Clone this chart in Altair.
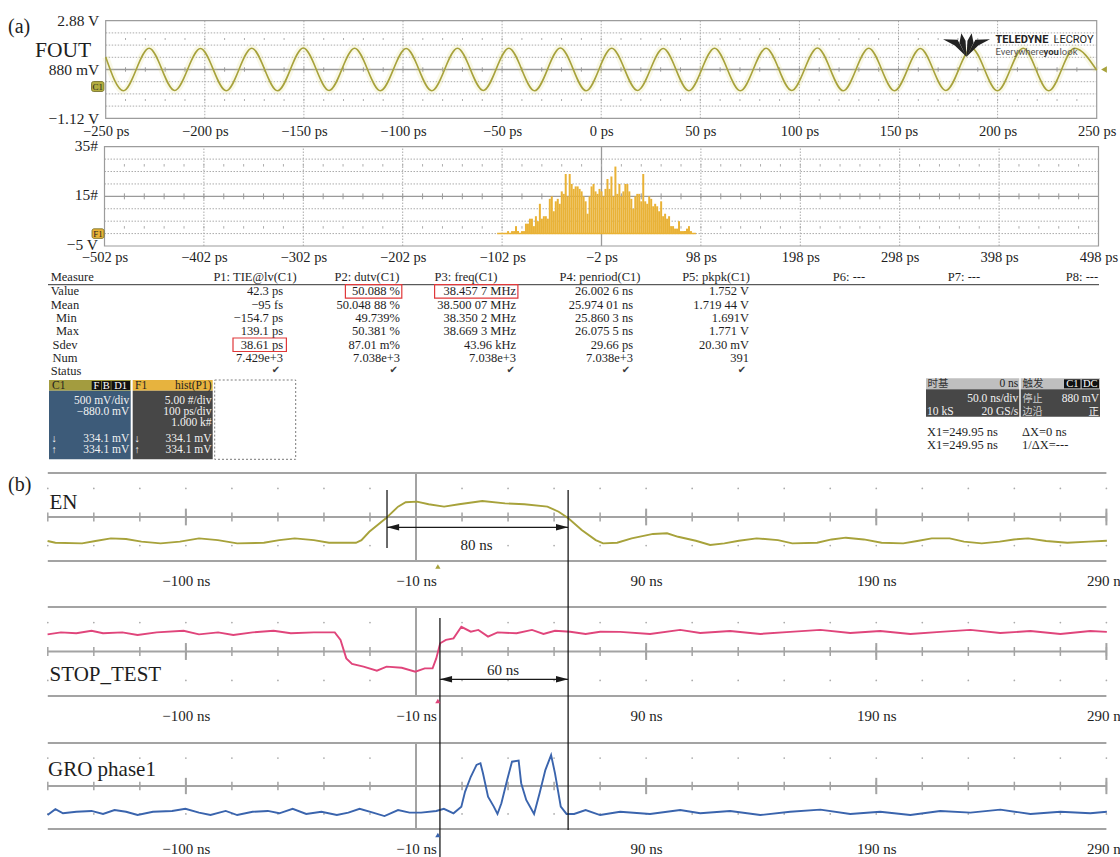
import altair as alt
import pandas as pd

W, H = 1120, 857
SERIF = "Liberation Serif"
SANS = "Roboto"
CJK = "Noto Sans CJK SC"
SYM = "DejaVu Sans"

OLIVE = "#a7a23b"
PINK = "#e0457b"
BLUE = "#3a64ad"
GOLD = "#e9b236"
GRID = "#ababab"
FRAME = "#9c9c9c"
INK = "#1e1e1e"

# ------------------------------------------------------------------ data
# (a) FOUT: turning points of the displayed sine trace (time in ps, level in V)
fout_ps = [-250.0, -241.1, -228.1, -215.2, -202.2, -189.2, -176.3, -163.3, -150.3,
           -137.3, -124.4, -111.4, -98.4, -85.5, -72.5, -59.5, -46.6, -33.6, -20.6,
           -7.6, 5.3, 18.3, 31.3, 44.2, 57.2, 70.2, 83.2, 96.1, 109.1, 122.1, 135.0,
           148.0, 161.0, 173.9, 186.9, 199.9, 212.9, 225.8, 238.8, 250.0]
fout_v = [1.39, 0.01, 1.75, 0.02, 1.74, 0.01, 1.75, 0.01, 1.76, 0.02, 1.75, 0.01,
          1.74, 0.01, 1.75, 0.02, 1.75, 0.01, 1.76, 0.01, 1.75, 0.02, 1.74, 0.01,
          1.75, 0.01, 1.75, 0.02, 1.76, 0.01, 1.75, 0.01, 1.74, 0.02, 1.75, 0.01,
          1.75, 0.01, 1.75, 0.85]

# (a) F1 = hist(P1): 2 ps bins (left edges) and counts
hist_left_ps = list(range(-107, 93, 2))
hist_counts = [0, 0, 0, 0, 0, 1, 0, 1, 1, 3,
               1, 0, 1, 1, 4, 4, 6, 6, 3, 7,
               5, 12, 6, 7, 7, 6, 14, 15, 9, 13,
               14, 12, 17, 16, 24, 15, 24, 20, 18, 19,
               19, 18, 17, 15, 13, 8, 15, 19, 20, 17,
               16, 18, 17, 15, 18, 22, 18, 23, 15, 27,
               16, 20, 15, 17, 20, 20, 17, 14, 10, 15,
               16, 16, 13, 24, 13, 12, 15, 14, 11, 12,
               11, 9, 13, 7, 8, 6, 7, 3, 3, 2,
               2, 5, 1, 1, 1, 2, 3, 1, 0, 0]

# (b) EN (time in ns, level in divisions)
en_ns = [-170.1, -166.7, -155.1, -149.3, -142.6, -136.0, -129.3, -121.0, -112.6, -104.3,
         -96.1, -87.7, -76.1, -69.4, -62.7, -54.4, -47.8, -36.1, -33.7, -30.3,
         -23.1, -17.8, -14.5, -9.6, -4.5, 2.2, 8.7, 18.8, 28.7, 37.1,
         47.1, 52.0, 56.2, 62.0, 68.1, 71.3, 77.4, 83.7, 93.0, 99.1,
         103.9, 111.6, 117.8, 124.0, 130.3, 138.0, 147.3, 153.5, 164.3, 170.6,
         176.8, 184.6, 192.3, 201.7, 207.8, 214.1, 221.9, 228.1, 235.8, 243.6,
         249.8, 256.0, 263.8, 273.0, 282.4, 290.2]
en_div = [-1.09, -1.17, -1.2, -1.09, -0.97, -1.0, -1.12, -1.2, -1.12, -0.97,
          -1.05, -1.2, -1.17, -1.05, -0.97, -1.05, -1.17, -1.17, -1.05, -0.67,
          -0.06, 0.47, 0.67, 0.7, 0.58, 0.47, 0.58, 0.73, 0.62, 0.58,
          0.47, 0.24, -0.06, -0.59, -1.05, -1.2, -1.17, -0.97, -0.77, -0.74,
          -0.9, -1.08, -1.27, -1.2, -1.08, -0.97, -1.05, -1.2, -1.17, -1.02,
          -0.94, -1.02, -1.17, -1.2, -1.09, -0.97, -0.97, -1.12, -1.2, -1.12,
          -1.02, -0.97, -1.09, -1.17, -1.12, -1.08]

# (b) STOP_TEST
stop_ns = [-170.1, -164.3, -157.6, -151.0, -146.0, -137.6, -131.0, -122.7, -111.0, -104.3,
           -96.0, -89.4, -81.0, -71.9, -64.4, -54.4, -45.3, -42.8, -40.3, -37.8,
           -32.8, -27.0, -22.8, -16.2, -10.3, -6.2, -2.8, -1.2, 0.5, 3.0,
           6.3, 9.7, 13.8, 17.1, 21.3, 25.4, 33.7, 40.4, 45.4, 50.4,
           57.0, 63.7, 70.0, 78.7, 91.7, 104.8, 113.5, 126.5, 139.6, 152.6,
           165.7, 178.7, 191.7, 204.8, 217.8, 230.9, 243.9, 257.0, 270.0, 283.0,
           290.2]
stop_div = [0.77, 0.86, 0.82, 0.93, 0.82, 0.86, 0.74, 0.86, 0.93, 0.77,
            0.86, 0.74, 0.86, 0.93, 0.82, 0.86, 0.86, 0.52, -0.31, -0.56,
            -0.68, -0.86, -0.68, -0.73, -0.91, -0.76, -0.76, -0.31, 0.37, 0.52,
            0.59, 1.11, 0.89, 0.97, 0.67, 0.86, 0.82, 0.97, 0.79, 0.93,
            0.89, 0.79, 0.89, 0.88, 0.79, 0.97, 0.83, 0.92, 0.79, 0.88,
            0.97, 0.83, 0.92, 0.79, 0.88, 0.97, 0.83, 0.92, 0.79, 0.92,
            0.88]

# (b) GRO phase1
gro_ns = [-170.1, -166.7, -163.4, -157.6, -151.0, -146.0, -141.0, -136.0, -131.0, -124.3,
          -116.0, -110.2, -104.3, -99.3, -92.7, -87.7, -81.0, -74.4, -69.4, -63.6,
          -57.7, -51.1, -44.4, -39.4, -34.5, -28.7, -23.7, -17.8, -12.8, -7.8,
          -1.2, 2.1, 6.3, 9.7, 11.3, 13.8, 16.3, 18.0, 19.1, 21.3,
          23.8, 25.4, 27.1, 29.6, 31.7, 34.6, 35.7, 37.9, 41.3, 43.7,
          46.2, 48.7, 50.4, 52.9, 55.4, 58.7, 63.7, 70.0, 78.7, 91.7,
          104.8, 113.5, 126.5, 139.6, 152.6, 165.7, 178.7, 191.7, 204.8, 217.8,
          230.9, 243.9, 257.0, 270.0, 283.0, 290.2]
gro_div = [-1.35, -1.08, -1.27, -1.2, -1.16, -1.3, -1.12, -1.2, -1.35, -1.2,
           -1.16, -1.06, -1.24, -1.35, -1.16, -1.35, -1.2, -1.16, -1.27, -1.06,
           -1.3, -1.2, -1.35, -1.24, -1.06, -1.24, -1.4, -1.12, -1.24, -1.24,
           -1.16, -1.06, -1.27, -0.96, -0.27, 0.43, 0.98, 1.06, 0.59, -0.5,
           -0.96, -1.3, -0.8, 0.28, 1.13, 1.18, 0.13, -0.65, -1.3, -0.34,
           0.74, 1.44, 0.59, -0.96, -1.3, -1.3, -1.12, -1.35, -1.2, -1.3,
           -1.12, -1.27, -1.16, -1.35, -1.2, -1.1, -1.3, -1.2, -1.35, -1.16,
           -1.24, -1.1, -1.3, -1.2, -1.27, -1.2]

# cursors in (b): edges of the EN pulse and the STOP_TEST release (ns)
en_edges_ns = [-22.6, 56.1]
stop_edge_ns = 0.4

# measurement table
table_rows = ["Value", "Mean", "Min", "Max", "Sdev", "Num", "Status"]
table_headers = ["P1: TIE@lv(C1)", "P2: dutv(C1)", "P3: freq(C1)", "P4: penriod(C1)",
                 "P5: pkpk(C1)", "P6: ---", "P7: ---", "P8: ---"]
p1_tie = ["42.3 ps", "−95 fs", "−154.7 ps", "139.1 ps", "38.61 ps", "7.429e+3"]
p2_duty = ["50.088 %", "50.048 88 %", "49.739%", "50.381 %", "87.01 m%", "7.038e+3"]
p3_freq = ["38.457 7 MHz", "38.500 07 MHz", "38.350 2 MHz", "38.669 3 MHz", "43.96 kHz", "7.038e+3"]
p4_period = ["26.002 6 ns", "25.974 01 ns", "25.860 3 ns", "26.075 5 ns", "29.66 ps", "7.038e+3"]
p5_pkpk = ["1.752 V", "1.719 44 V", "1.691V", "1.771 V", "20.30 mV", "391"]
table_cols = [p1_tie, p2_duty, p3_freq, p4_period, p5_pkpk]

# channel / function descriptors
c1_lines = ["500 mV/div", "−880.0 mV", "334.1 mV", "334.1 mV"]
f1_lines = ["5.00 #/div", "100 ps/div", "1.000 k#", "334.1 mV", "334.1 mV"]

# ------------------------------------------------------------------ layout
table_row_y = [291.3, 304.7, 318.0, 331.3, 344.7, 358.0, 370.7]
table_label_x = [50.7, 50.7, 56.0, 56.0, 52.5, 52.5, 50.7]
value_right_x = [283, 400, 516, 633, 749]
header_center_x = [255, 367, 466, 600, 716, 849, 964, 1082]
check_x = [276, 393.6, 510.7, 626, 742]


def sc(domain, rng):
    return alt.Scale(domain=domain, range=rng, nice=False, zero=False)


PX = sc([0, W], [0, W])
PY = sc([0, H], [0, H])
XA = sc([-250, 250], [105.7, 1096.7])
YA = sc([-1.12, 2.88], [118.3, 20.7])
XH = sc([-502, 498], [104.5, 1098.5])
YH = sc([-5, 35], [246.0, 146.7])
XB = sc([-170, 290], [47.8, 1106.4])
Y_EN = sc([-2, 2], [561.0, 473.0])
Y_ST = sc([-2, 2], [696.0, 607.0])
Y_GR = sc([-2, 2], [829.0, 743.0])


def rule_v(xvals, xs, ys, lo, hi, color, width=1.0, dash=None):
    df = pd.DataFrame({"x": xvals, "lo": lo, "hi": hi})
    kw = dict(color=color, strokeWidth=width)
    if dash:
        kw["strokeDash"] = dash
    return alt.Chart(df).mark_rule(**kw).encode(
        x=alt.X("x:Q", scale=xs, axis=None),
        y=alt.Y("lo:Q", scale=ys, axis=None), y2="hi:Q")


def rule_h(yvals, xs, ys, lo, hi, color, width=1.0, dash=None):
    df = pd.DataFrame({"y": yvals, "lo": lo, "hi": hi})
    kw = dict(color=color, strokeWidth=width)
    if dash:
        kw["strokeDash"] = dash
    return alt.Chart(df).mark_rule(**kw).encode(
        y=alt.Y("y:Q", scale=ys, axis=None),
        x=alt.X("lo:Q", scale=xs, axis=None), x2="hi:Q")


def dots(xvals, yvals, xs, ys, color=GRID, size=3):
    df = pd.DataFrame([(x, y) for y in yvals for x in xvals], columns=["x", "y"])
    return alt.Chart(df).mark_point(filled=True, size=size, color=color, opacity=1).encode(
        x=alt.X("x:Q", scale=xs, axis=None), y=alt.Y("y:Q", scale=ys, axis=None))


def frame(xs, ys, x0, x1, y0, y1):
    df = pd.DataFrame({"x0": [x0], "x1": [x1], "y0": [y0], "y1": [y1]})
    return alt.Chart(df).mark_rect(fillOpacity=0, stroke=FRAME, strokeWidth=1.2).encode(
        x=alt.X("x0:Q", scale=xs, axis=None), x2="x1:Q",
        y=alt.Y("y0:Q", scale=ys, axis=None), y2="y1:Q")


def trace(xvals, yvals, xs, ys, color, width=1.6, interp="linear", opacity=1.0):
    df = pd.DataFrame({"t": xvals, "v": yvals})
    return alt.Chart(df).mark_line(color=color, strokeWidth=width, interpolate=interp,
                                   opacity=opacity).encode(
        x=alt.X("t:Q", scale=xs, axis=None), y=alt.Y("v:Q", scale=ys, axis=None))


def bottom_axis(values, expr, y_px, size=14.5, pad=5):
    return alt.Axis(orient="bottom", offset=y_px - H, values=values, labelExpr=expr,
                    domain=False, ticks=False, grid=False, title="",
                    labelFont=SERIF, labelFontSize=size, labelColor=INK,
                    labelPadding=pad, labelFlush=False, labelOverlap=False)


def left_axis(values, expr, x_px, size=15.5, pad=7, offset_y=0):
    return alt.Axis(orient="left", offset=-x_px, values=values, labelExpr=expr,
                    domain=False, ticks=False, grid=False, title="",
                    labelFont=SERIF, labelFontSize=size, labelColor=INK,
                    labelPadding=pad, labelOverlap=False, labelOffset=offset_y)


def carrier(xs, ys, xdom, ydom, xaxis=None, yaxis=None):
    df = pd.DataFrame({"x": xdom, "y": ydom})
    return alt.Chart(df).mark_point(opacity=0).encode(
        x=alt.X("x:Q", scale=xs, axis=xaxis), y=alt.Y("y:Q", scale=ys, axis=yaxis))


def ctext(rows, align="left", font=SERIF, weight="normal"):
    df = pd.DataFrame(rows, columns=["x", "y", "text", "size", "color"])
    return alt.Chart(df).mark_text(align=align, baseline="middle", font=font,
                                   fontWeight=weight).encode(
        x=alt.X("x:Q", scale=PX, axis=None), y=alt.Y("y:Q", scale=PY, axis=None),
        text="text:N", size=alt.Size("size:Q", scale=None),
        color=alt.Color("color:N", scale=None))


def crects(rows, **mark):
    df = pd.DataFrame(rows, columns=["x0", "y0", "x1", "y1", "fill"])
    return alt.Chart(df).mark_rect(**mark).encode(
        x=alt.X("x0:Q", scale=PX, axis=None), x2="x1:Q",
        y=alt.Y("y0:Q", scale=PY, axis=None), y2="y1:Q",
        color=alt.Color("fill:N", scale=None))


def cboxes(rows, **mark):
    df = pd.DataFrame(rows, columns=["x0", "y0", "x1", "y1"])
    return alt.Chart(df).mark_rect(fillOpacity=0, **mark).encode(
        x=alt.X("x0:Q", scale=PX, axis=None), x2="x1:Q",
        y=alt.Y("y0:Q", scale=PY, axis=None), y2="y1:Q")


layers = []

# ------------------------------------------------------------ (a) FOUT panel
a_minor = list(range(-240, 250, 10))
layers += [
    rule_h([-0.62, -0.12, 0.38, 1.38, 1.88, 2.38], XA, YA, -250, 250, GRID, 1, [1.5, 1.5]),
    rule_v([-200, -150, -100, -50, 0, 50, 100, 150, 200], XA, YA, -1.12, 2.88, GRID, 1, [1.5, 1.5]),
    rule_h([0.88], XA, YA, -250, 250, "#9a9a9a", 1.3),
    rule_v(a_minor, XA, YA, 0.79, 0.97, "#9a9a9a", 1),
    rule_v(a_minor, XA, YA, 2.09, 2.17, GRID, 1),
    rule_v(a_minor, XA, YA, -0.41, -0.33, GRID, 1),
    frame(XA, YA, -250, 250, -1.12, 2.88),
    trace(fout_ps, fout_v, XA, YA, "#dcd67a", width=7, interp="monotone", opacity=0.18),
    trace(fout_ps, fout_v, XA, YA, OLIVE, width=1.6, interp="monotone"),
    carrier(XA, YA, [-250, 250], [-1.12, 2.88],
            xaxis=bottom_axis(list(range(-250, 251, 50)),
                              "format(datum.value, 'd') + ' ps'", 118.3, 14.5, 6),
            yaxis=left_axis([-1.12, 0.88, 2.88],
                            "datum.value == 0.88 ? '880 mV' : format(datum.value, '.2f') + ' V'",
                            105.7, 15.5, 7)),
]

# ------------------------------------------------------------ (a) histogram panel
h_minor = list(range(-482, 498, 20))
hist_df = pd.DataFrame({"x0": hist_left_ps, "c": hist_counts})
hist_df["x1"] = hist_df["x0"] + 2
layers += [
    rule_h([0, 5, 10, 20, 25, 30], XH, YH, -502, 498, GRID, 1, [1.5, 1.5]),
    rule_v([-402, -302, -202, -102, 98, 198, 298, 398], XH, YH, -5, 35, GRID, 1, [1.5, 1.5]),
    rule_h([15], XH, YH, -502, 498, "#9a9a9a", 1.3),
    rule_v([-2], XH, YH, -5, 35, "#9a9a9a", 1.3),
    rule_v(h_minor, XH, YH, 13.8, 16.2, "#9a9a9a", 1),
    rule_v(h_minor, XH, YH, 27.0, 28.0, GRID, 1),
    rule_v(h_minor, XH, YH, 2.0, 3.0, GRID, 1),
    frame(XH, YH, -502, 498, -5, 35),
    rule_h([0], XH, YH, -107, 93, GOLD, 1.5),
    alt.Chart(hist_df).mark_rect(color=GOLD).encode(
        x=alt.X("x0:Q", scale=XH, axis=None), x2="x1:Q",
        y=alt.Y("c:Q", scale=YH, axis=None), y2=alt.datum(0)),
    carrier(XH, YH, [-502, 498], [-5, 35],
            xaxis=bottom_axis(list(range(-502, 499, 100)),
                              "format(datum.value, 'd') + ' ps'", 246.0, 14.5, 4),
            yaxis=left_axis([-5, 15, 35],
                            "datum.value < 0 ? format(datum.value, 'd') + ' V' : format(datum.value, 'd') + '#'",
                            104.5, 15.5, 7, -1.5)),
]

# ------------------------------------------------------------ (b) three channel panels
b_minor = list(range(-170, 291, 20))
b_major = [-110, -10, 90, 190, 290]
b_expr = "(datum.value == -110 ? '−100' : format(datum.value, 'd')) + ' ns'"
for ys, xs_vals, ys_vals, color, axis_y in [
    (Y_EN, en_ns, en_div, OLIVE, 561.0),
    (Y_ST, stop_ns, stop_div, PINK, 696.0),
    (Y_GR, gro_ns, gro_div, BLUE, 829.0),
]:
    layers += [
        dots(b_minor, [-1.3, 1.3], XB, ys),
        rule_h([-2, 0, 2], XB, ys, -170, 290, "#a3a3a3", 2),
        rule_v([-10], XB, ys, -2, 2, "#a3a3a3", 2),
        rule_v(b_minor, XB, ys, -0.2, 0.2, "#a3a3a3", 1.5),
        rule_v(b_major, XB, ys, -0.38, 0.38, "#a3a3a3", 2),
        trace(xs_vals, ys_vals, XB, ys, color, width=1.9),
        carrier(XB, ys, [-170, 290], [-2, 2],
                xaxis=bottom_axis(b_major, b_expr, axis_y, 15, 12)),
    ]

# cursors and measured spans
cur_df = pd.DataFrame({"t": [en_edges_ns[0], en_edges_ns[1], stop_edge_ns],
                       "lo": [490.0, 490.0, 618.0], "hi": [548.0, 830.0, 857.0]})
layers.append(alt.Chart(cur_df).mark_rule(color="#1a1a1a", strokeWidth=1.3).encode(
    x=alt.X("t:Q", scale=XB, axis=None), y=alt.Y("lo:Q", scale=PY, axis=None), y2="hi:Q"))

span_df = pd.DataFrame({"a": [en_edges_ns[0], stop_edge_ns], "b": [en_edges_ns[1], en_edges_ns[1]],
                        "y": [527.3, 679.3]})
layers.append(alt.Chart(span_df).mark_rule(color="#1a1a1a", strokeWidth=1.3).encode(
    x=alt.X("a:Q", scale=XB, axis=None), x2="b:Q", y=alt.Y("y:Q", scale=PY, axis=None)))
LEFT_HEAD = "M0,0L1.6,-0.42L1.6,0.42Z"
RIGHT_HEAD = "M0,0L-1.6,-0.42L-1.6,0.42Z"
for col, shape in [("a", LEFT_HEAD), ("b", RIGHT_HEAD)]:
    layers.append(alt.Chart(span_df).mark_point(shape=shape, filled=True, size=230,
                                                color="#1a1a1a", opacity=1).encode(
        x=alt.X(f"{col}:Q", scale=XB, axis=None), y=alt.Y("y:Q", scale=PY, axis=None)))

trig_df = pd.DataFrame({"t": [-0.5, -0.5, -0.5], "y": [566.5, 701.0, 835.0],
                        "c": [OLIVE, PINK, BLUE]})
layers.append(alt.Chart(trig_df).mark_point(shape="triangle-up", filled=True, size=28,
                                            opacity=1).encode(
    x=alt.X("t:Q", scale=XB, axis=None), y=alt.Y("y:Q", scale=PY, axis=None),
    color=alt.Color("c:N", scale=None)))

# ------------------------------------------------------------ annotations
# panel markers on the left edge and the trigger level arrow
layers.append(crects([(91.5, 81.5, 104.0, 91.5, "#b2ac3e"), (92.0, 228.8, 104.0, 238.4, GOLD)],
                     stroke="#6f6a24", strokeWidth=0.8, cornerRadius=2))
layers.append(ctext([(97.8, 86.6, "C1", 9, INK), (98.0, 233.7, "F1", 9, INK)], align="center"))
layers.append(alt.Chart(pd.DataFrame({"x": [1104.0], "y": [69.5]})).mark_point(
    shape="triangle-left", filled=True, size=45, color=OLIVE, opacity=1).encode(
    x=alt.X("x:Q", scale=PX, axis=None), y=alt.Y("y:Q", scale=PY, axis=None)))

# vendor mark
LOGO = ("M0,0.5L-0.5,0.02L-1,-0.25L-0.38,-0.22Z M0,0.5L-0.3,-0.1L-0.22,-0.5L-0.04,-0.18Z "
        "M0,0.5L0.04,-0.18L0.22,-0.5L0.3,-0.1Z M0,0.5L0.38,-0.22L1,-0.25L0.5,0.02Z")
layers.append(alt.Chart(pd.DataFrame({"x": [966.5], "y": [45.0]})).mark_point(
    shape=LOGO, filled=True, size=2200, color="#222222", opacity=1).encode(
    x=alt.X("x:Q", scale=PX, axis=None), y=alt.Y("y:Q", scale=PY, axis=None)))
layers.append(ctext([(995.5, 40.0, "TELEDYNE", 11, "#222222"), (1043.5, 51.5, "you", 9.5, "#333333")],
                    font=SANS, weight="bold"))
layers.append(ctext([(1053.5, 40.0, "LECROY", 11, "#222222"), (995.5, 51.5, "Everywhere", 9.5, "#555555"),
                     (1059.5, 51.5, "look", 9.5, "#555555")], font=SANS))

# figure titles and trace names
layers.append(ctext([
    (8, 27, "(a)", 20, INK), (35, 50.5, "FOUT", 21.5, INK), (8, 485, "(b)", 20, INK),
    (49.5, 503.3, "EN", 21, INK), (49.5, 675.0, "STOP_TEST", 21, INK),
    (48.0, 770.0, "GRO phase1", 21, INK),
]))
layers.append(ctext([(476.5, 545.0, "80 ns", 15, INK), (503.0, 670.0, "60 ns", 15, INK)],
                    align="center"))

# measurement table
layers.append(alt.Chart(pd.DataFrame({"a": [48.0], "b": [1099.0], "y": [284.7]})).mark_rule(
    color="#333333", strokeWidth=1).encode(
    x=alt.X("a:Q", scale=PX, axis=None), x2="b:Q", y=alt.Y("y:Q", scale=PY, axis=None)))
left_rows = [(50.7, 277.3, "Measure", 12.5, INK)]
left_rows += [(table_label_x[i], table_row_y[i], r, 12.5, INK) for i, r in enumerate(table_rows)]
layers.append(ctext(left_rows))
layers.append(ctext([(header_center_x[i], 277.3, h, 12.5, INK) for i, h in enumerate(table_headers)],
                    align="center"))
value_rows = [(value_right_x[ci], table_row_y[ri], txt, 12.5, INK)
              for ci, col in enumerate(table_cols) for ri, txt in enumerate(col)]
layers.append(ctext(value_rows, align="right"))
layers.append(ctext([(cx, 370.2, "✔", 10, "#3a3a3a") for cx in check_x], align="center", font=SYM))
layers.append(cboxes([(345.4, 284.7, 401.8, 298.2), (434.6, 284.7, 517.9, 298.2),
                      (233.0, 338.0, 286.4, 351.5)], stroke="#e0383a", strokeWidth=1.2))

# channel descriptor boxes
layers.append(crects([
    (49.0, 380.0, 130.7, 390.7, "#a39c3f"), (49.0, 390.7, 130.7, 459.3, "#3d5b79"),
    (132.7, 380.0, 212.7, 390.7, "#e7b33e"), (132.7, 390.7, 212.7, 459.3, "#474747"),
    (91.7, 381.0, 101.0, 390.0, "#111111"), (101.7, 381.0, 110.7, 390.0, "#111111"),
    (111.4, 381.0, 130.0, 390.0, "#111111"),
    (926.0, 378.3, 1019.3, 389.3, "#bfbfbf"), (926.0, 389.3, 1019.3, 416.7, "#474747"),
    (1020.7, 378.3, 1100.0, 389.3, "#bfbfbf"), (1020.7, 389.3, 1100.0, 416.7, "#474747"),
    (1064.0, 379.3, 1080.5, 388.3, "#111111"), (1081.7, 379.3, 1099.0, 388.3, "#111111"),
]))
layers.append(cboxes([(214.7, 380.0, 295.7, 459.3)], stroke="#7a7a7a", strokeWidth=1,
                     strokeDash=[2, 2]))
box_y = [401.2, 412.0, 423.0, 439.0, 450.3]
BOX_FS = 11.5
layers.append(ctext([(52, 385.5, "C1", 11.5, INK), (135, 385.5, "F1", 11.5, INK)]))
layers.append(ctext([(211.5, 385.5, "hist(P1)", 11.5, INK)], align="right"))
layers.append(ctext([(96.3, 385.6, "F", 10.5, "#ffffff"), (106.2, 385.6, "B", 10.5, "#ffffff"),
                     (120.7, 385.6, "D1", 10.5, "#ffffff"), (1072.3, 383.8, "C1", 10.5, "#ffffff"),
                     (1090.3, 383.8, "DC", 10.5, "#ffffff")], align="center"))
c1_y = [box_y[0], box_y[1], box_y[3], box_y[4]]
body_rows = [(129.3, c1_y[i], s, BOX_FS, "#f2f2f2") for i, s in enumerate(c1_lines)]
body_rows += [(211.5, box_y[i], s, BOX_FS, "#f2f2f2") for i, s in enumerate(f1_lines)]
body_rows += [(1018.3, 383.8, "0 ns", 11.5, INK), (1018.3, 399.3, "50.0 ns/div", 11.5, "#f2f2f2"),
              (1018.3, 411.7, "20 GS/s", 11.5, "#f2f2f2"), (1099.0, 399.3, "880 mV", 11.5, "#f2f2f2")]
layers.append(ctext(body_rows, align="right"))
layers.append(ctext([(51.5, box_y[3], "↓", 10.5, "#f2f2f2"), (51.5, box_y[4], "↑", 10.5, "#f2f2f2"),
                     (134.5, box_y[3], "↓", 10.5, "#f2f2f2"), (134.5, box_y[4], "↑", 10.5, "#f2f2f2"),
                     (927.0, 411.7, "10 kS", 11.5, "#f2f2f2"),
                     (927.0, 432.0, "X1=249.95 ns", 12.5, INK), (1022.0, 432.0, "ΔX=0 ns", 12.5, INK),
                     (927.0, 445.0, "X1=249.95 ns", 12.5, INK), (1022.0, 445.0, "1/ΔX=---", 12.5, INK)]))
layers.append(ctext([(927.5, 383.8, "时基", 10.5, "#333333"), (1022.5, 383.8, "触发", 10.5, "#333333"),
                     (1022.5, 399.0, "停止", 10, "#cfcfcf"), (1022.5, 412.0, "边沿", 10, "#cfcfcf")],
                    font=CJK))
layers.append(ctext([(1099.0, 411.7, "正", 10.5, "#f2f2f2")], align="right", font=CJK))

chart = (
    alt.layer(*layers)
    .resolve_scale(x="independent", y="independent")
    .properties(width=W, height=H, autosize=alt.AutoSizeParams(type="none"),
                padding=0, background="white")
    .configure_view(stroke=None)
)

chart.save("out.html", embed_options={"renderer": "svg", "actions": False})
